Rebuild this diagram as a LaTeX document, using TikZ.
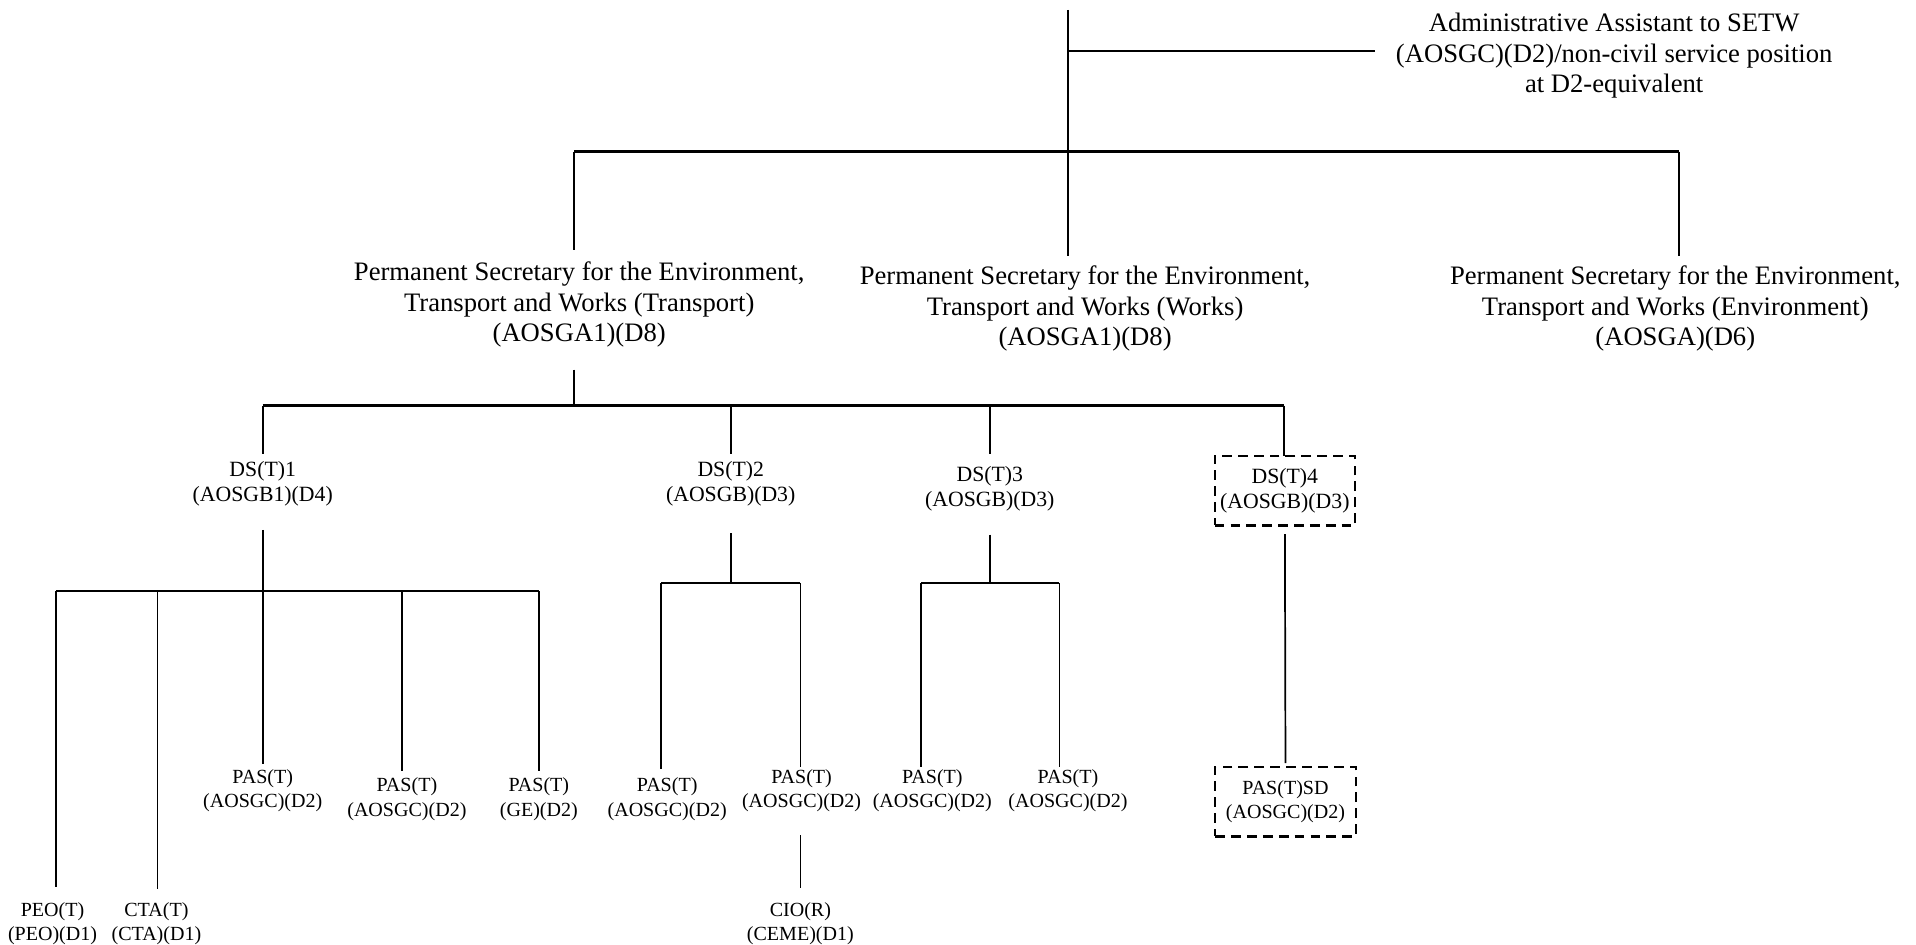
\documentclass[tikz,border=0pt]{standalone}
\usepackage{fontspec}
\setmainfont{Liberation Serif}
\begin{document}
\begin{tikzpicture}[x=0.5pt,y=-0.5pt,
  lbl/.style={align=center, inner sep=0pt, outer sep=0pt},
  big/.style={lbl, font=\fontsize{10.9}{12.5}\selectfont},
  mid/.style={lbl, font=\fontsize{8.9}{10.5}\selectfont},
  small/.style={lbl, font=\fontsize{8.2}{10}\selectfont},
  dbox/.style={draw, line width=0.9pt, dash pattern=on 4pt off 2.5pt, minimum width=57.5pt, minimum height=28.5pt},
  ln/.style={draw, line width=0.7pt},
  bus/.style={draw, line width=1.0pt},
  lbus/.style={draw, line width=0.85pt}]
\useasboundingbox (0,0) rectangle (1568,773);

% ---- nodes ----
\node[big] (adm) at (1321,45.5) {Administrative Assistant to SETW\\(AOSGC)(D2)/non-civil service position\\at D2-equivalent};
\node[big] (tr) at (474,249.5) {Permanent Secretary for the Environment,\\Transport and Works (Transport)\\(AOSGA1)(D8)};
\node[big] (wk) at (888,252.5) {Permanent Secretary for the Environment,\\Transport and Works (Works)\\(AOSGA1)(D8)};
\node[big] (en) at (1371,252.5) {Permanent Secretary for the Environment,\\Transport and Works (Environment)\\(AOSGA)(D6)};

\node[mid] (ds1) at (215,396) {DS(T)1\\(AOSGB1)(D4)};
\node[mid] (ds2) at (598,396) {DS(T)2\\(AOSGB)(D3)};
\node[mid] (ds3) at (810,400) {DS(T)3\\(AOSGB)(D3)};
\node[mid, dbox] (ds4) at (1051.5,401.5) {DS(T)4\\(AOSGB)(D3)};

\node[small] (p1) at (215,647) {PAS(T)\\(AOSGC)(D2)};
\node[small] (p2) at (333,654) {PAS(T)\\(AOSGC)(D2)};
\node[small] (p3) at (441,654) {PAS(T)\\(GE)(D2)};
\node[small] (q1) at (546,654) {PAS(T)\\(AOSGC)(D2)};
\node[small] (q2) at (656,647) {PAS(T)\\(AOSGC)(D2)};
\node[small] (r1) at (763,647) {PAS(T)\\(AOSGC)(D2)};
\node[small] (r2) at (874,647) {PAS(T)\\(AOSGC)(D2)};
\node[small, dbox] (sd) at (1052,656) {PAS(T)SD\\(AOSGC)(D2)};
\node[small] (peo) at (43,756) {PEO(T)\\(PEO)(D1)};
\node[small] (cta) at (128,756) {CTA(T)\\(CTA)(D1)};
\node[small] (cio) at (655,756) {CIO(R)\\(CEME)(D1)};

% ---- junction coordinates ----
\coordinate (top) at (874,8);
\coordinate (ja) at (874,42);
\coordinate (b1) at (470,124);
\coordinate (b2) at (1374,124);
\coordinate (c0) at (470,332);
\coordinate (c1) at (215,332);
\coordinate (c2) at (598,332);
\coordinate (c3) at (810,332);
\coordinate (c4) at (1051,332);
\coordinate (dL) at (46,484);
\coordinate (dC) at (129,484);
\coordinate (dM) at (329,484);
\coordinate (dR) at (441,484);
\coordinate (e0) at (598,477);
\coordinate (e1) at (541,477);
\coordinate (e2) at (655,477);
\coordinate (f0) at (810,477);
\coordinate (f1) at (754,477);
\coordinate (f2) at (867,477);

% ---- connectors ----
\draw[ln, shorten >=4pt] (top) -- (top |- wk.north);
\draw[ln, shorten >=8.75pt] (ja) -- (ja -| adm.west);
\draw[bus] (b1) -- (b2);
\draw[ln, shorten >=5pt] (b1) -- (b1 |- tr.north);
\draw[ln, shorten >=4pt] (b2) -- (b2 |- en.north);

\draw[ln, shorten <=9pt] (c0 |- tr.south) -- (c0);
\draw[bus] (c1) -- (c4);
\draw[ln, shorten >=3pt] (c1) -- (c1 |- ds1.north);
\draw[ln, shorten >=3pt] (c2) -- (c2 |- ds2.north);
\draw[ln, shorten >=5pt] (c3) -- (c3 |- ds3.north);
\draw[ln] (c4) -- (c4 |- ds4.north);

% DS(T)1 branch
\draw[ln, shorten <=9.5pt, shorten >=2pt] (ds1.south) -- (ds1.south |- p1.north);
\draw[lbus] (dL) -- (dR);
\draw[ln, shorten >=6.5pt] (dL) -- (dL |- peo.north);
\draw[ln, shorten >=5.5pt] (dC) -- (dC |- cta.north);
\draw[ln, shorten >=3pt] (dM) -- (dM |- p2.north);
\draw[ln, shorten >=3pt] (dR) -- (dR |- p3.north);

% DS(T)2 branch
\draw[ln, shorten <=11pt] (e0 |- ds2.south) -- (e0);
\draw[lbus] (e1) -- (e2);
\draw[ln, shorten >=3.5pt] (e1) -- (e1 |- q1.north);
\draw[ln, shorten >=1pt] (e2) -- (e2 |- q2.north);
\draw[ln, shorten <=9.5pt, shorten >=6pt] (cio |- q2.south) -- (cio.north);

% DS(T)3 branch
\draw[ln, shorten <=9.5pt] (f0 |- ds3.south) -- (f0);
\draw[lbus] (f1) -- (f2);
\draw[ln, shorten >=1pt] (f1) -- (f1 |- r1.north);
\draw[ln, shorten >=1pt] (f2) -- (f2 |- r2.north);

% DS(T)4 branch
\draw[ln, shorten <=3.5pt, shorten >=1.5pt] (ds4.south) -- (sd.north);
\end{tikzpicture}
\end{document}
